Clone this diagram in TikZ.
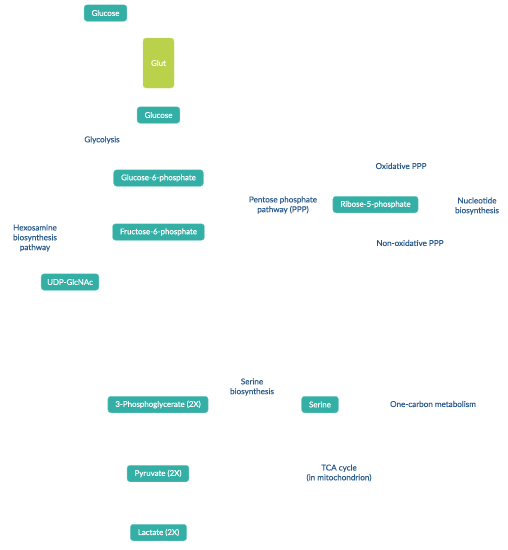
\documentclass[tikz,border=0pt]{standalone}
\usepackage{fontspec}
\setmainfont{Lato}
\newfontfamily\boxfont[FakeBold=0.7]{Lato}
\newfontfamily\labelfont[FakeBold=0.35]{Lato}
\usepackage{xcolor}
\usepackage{tikz}
\usetikzlibrary{positioning}

\definecolor{metab}{HTML}{33AFA6}
\definecolor{glutcol}{HTML}{B9D14B}
\definecolor{pathtxt}{HTML}{2A5A8C}

\begin{document}
\begin{tikzpicture}[
    x=1pt, y=-1pt,
    met/.style={fill=metab, draw=metab!70!white, line width=0.4pt, rounded corners=3pt,
                minimum height=16.5pt, inner xsep=7.5pt, inner ysep=2pt,
                text=white, font=\boxfont\fontsize{7.9}{8}\selectfont},
    trans/.style={fill=glutcol, draw=glutcol!70!white, line width=0.4pt, rounded corners=3pt,
                  minimum width=31pt, minimum height=50pt,
                  text=white, font=\boxfont\fontsize{7.9}{8}\selectfont},
    path/.style={text=pathtxt, align=center, inner sep=0pt,
                 font=\labelfont\fontsize{8.1}{9.8}\selectfont}
]
    \useasboundingbox (0,0) rectangle (508,550);

    % Glucose uptake
    \node[met] (glcout) at (105.5,13) {Glucose};
    \node[trans] (glut) at (158.5,63) {Glut};
    \node[met] (glcin) at (158.5,115) {Glucose};
    \node[path] (glycolysis) at (102,140) {Glycolysis};

    % Upper glycolysis
    \node[met] (g6p) at (158.5,178) {Glucose-6-phosphate};
    \node[met] (f6p) at (158.5,232) {Fructose-6-phosphate};

    % Hexosamine branch
    \node[path] (hbp) at (35,238) {Hexosamine\\biosynthesis\\pathway};
    \node[met, inner xsep=6pt] (udp) at (70,282) {UDP-GlcNAc};

    % Pentose phosphate branch
    \node[path] (ppp) at (283,205) {Pentose phosphate\\pathway (PPP)};
    \node[met] (r5p) at (375.5,204.5) {Ribose-5-phosphate};
    \node[path] (oxppp) at (401,166) {Oxidative PPP};
    \node[path] (nonoxppp) at (410,243) {Non-oxidative PPP};
    \node[path] (nucleo) at (477,206) {Nucleotide\\biosynthesis};

    % Lower glycolysis and serine branch
    \node[met] (pg3) at (158,404.5) {3-Phosphoglycerate (2X)};
    \node[path] (serbio) at (252,387) {Serine\\biosynthesis};
    \node[met] (ser) at (320,404.5) {Serine};
    \node[path] (onec) at (433,404) {One-carbon metabolism};

    \node[met] (pyr) at (158,473.5) {Pyruvate (2X)};
    \node[path] (tca) at (339,473) {TCA cycle\\(in mitochondrion)};
    \node[met] (lac) at (158.5,532.5) {Lactate (2X)};

\end{tikzpicture}
\end{document}
